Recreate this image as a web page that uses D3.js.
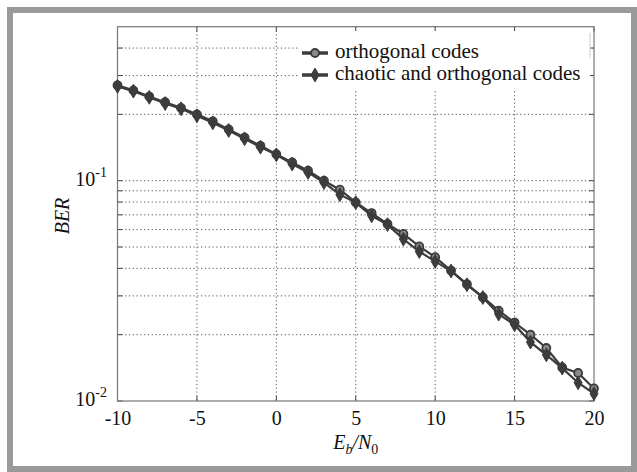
<!DOCTYPE html>
<html>
<head>
<meta charset="utf-8">
<script src="https://cdn.jsdelivr.net/npm/d3@7"></script>
<style>
  body { margin: 0; background: #fff; }
  svg text { font-family: "Liberation Serif", "Times New Roman", serif !important; fill: #111; }
</style>
</head>
<body>
<svg id="chart"></svg>
<script>
// Eb/N0 values (dB)
const snr = [-10, -9, -8, -7, -6, -5, -4, -3, -2, -1, 0, 1, 2, 3, 4, 5, 6, 7, 8, 9, 10,
             11, 12, 13, 14, 15, 16, 17, 18, 19, 20];
// BER, orthogonal codes (circles)
const berOrthogonal = [0.271, 0.257, 0.241, 0.227, 0.214, 0.200, 0.186, 0.171, 0.157, 0.144, 0.132,
                       0.121, 0.111, 0.100, 0.0910, 0.0797, 0.0713, 0.0636, 0.0573, 0.0503, 0.0450,
                       0.0391, 0.0339, 0.0296, 0.0257, 0.0227, 0.0200, 0.0174, 0.0142, 0.0134, 0.0114];
// BER, chaotic and orthogonal codes (diamonds)
const berChaotic = [0.268, 0.255, 0.239, 0.224, 0.212, 0.197, 0.183, 0.169, 0.155, 0.142, 0.131,
                    0.119, 0.109, 0.098, 0.0864, 0.0795, 0.0693, 0.0632, 0.0543, 0.0477, 0.0430,
                    0.0389, 0.0337, 0.0295, 0.0248, 0.0222, 0.0185, 0.0162, 0.0141, 0.0121, 0.0108];
const xTicks = [-10, -5, 0, 5, 10, 15, 20];
const yMajor = [0.1, 0.01];
const yMinor = [0.02, 0.03, 0.04, 0.05, 0.06, 0.07, 0.08, 0.09, 0.2, 0.3, 0.4];
const legendLabels = ["orthogonal codes", "chaotic and orthogonal codes"];

const width = 637, height = 472;
const plotLeft = 117.5, plotRight = 594, plotTop = 26.7, plotBottom = 401;
const lineColor = "#3c3c3c";
const serif = "'Liberation Serif', 'Times New Roman', serif";

const svg = d3.select("#chart").attr("width", width).attr("height", height);

// grey page frame
svg.append("rect")
    .attr("x", 10).attr("y", 10).attr("width", 624).attr("height", 459)
    .attr("fill", "none").attr("stroke", "#9a9a9a").attr("stroke-width", 6);

const x = d3.scaleLinear().domain([-10, 20]).range([plotLeft, plotRight]);
const y = d3.scaleLog().domain([0.01, 0.5]).range([plotBottom, plotTop]);

// grid
const grid = svg.append("g")
    .attr("stroke", "#555").attr("stroke-width", 1).attr("stroke-dasharray", "1.2,2.6");
grid.selectAll(".gx").data(xTicks.slice(1, -1)).join("line")
    .attr("x1", d => x(d)).attr("x2", d => x(d))
    .attr("y1", plotTop).attr("y2", plotBottom);
grid.selectAll(".gy").data(yMajor.concat(yMinor).filter(d => d > 0.01)).join("line")
    .attr("x1", plotLeft).attr("x2", plotRight)
    .attr("y1", d => y(d)).attr("y2", d => y(d));

// ticks inside on all sides
const ticks = svg.append("g").attr("stroke", "#444").attr("stroke-width", 1);
xTicks.forEach(d => {
  ticks.append("line").attr("x1", x(d)).attr("x2", x(d)).attr("y1", plotBottom).attr("y2", plotBottom - 5);
  ticks.append("line").attr("x1", x(d)).attr("x2", x(d)).attr("y1", plotTop).attr("y2", plotTop + 5);
});
yMajor.concat(yMinor).forEach(d => {
  ticks.append("line").attr("x1", plotLeft).attr("x2", plotLeft + 5).attr("y1", y(d)).attr("y2", y(d));
  ticks.append("line").attr("x1", plotRight).attr("x2", plotRight - 5).attr("y1", y(d)).attr("y2", y(d));
});

// x axis labels
svg.append("g")
    .attr("transform", `translate(0,${plotBottom})`)
    .call(d3.axisBottom(x).tickValues(xTicks).tickSize(0).tickPadding(10).tickFormat(d3.format("d")))
    .call(g => g.select(".domain").remove())
    .call(g => g.selectAll("text").attr("font-size", 20).attr("fill", "#111")
        .attr("font-family", serif).text(d => String(d)));

// y axis labels 10^k
yMajor.forEach(d => {
  const t = svg.append("text").attr("x", 107).attr("y", y(d) + 5)
      .attr("text-anchor", "end").attr("font-size", 20).attr("font-family", serif);
  t.append("tspan").text("10");
  t.append("tspan").attr("font-size", 14).attr("dy", -9).text(String(Math.round(Math.log10(d))));
});

// axes box
svg.append("rect")
    .attr("x", plotLeft).attr("y", plotTop).attr("width", plotRight - plotLeft).attr("height", plotBottom - plotTop)
    .attr("fill", "none").attr("stroke", "#777").attr("stroke-width", 1.2);

// series
const series = [
  {values: berOrthogonal, symbol: "circle"},
  {values: berChaotic, symbol: "diamond"}
];
const line = d3.line().x(d => x(d[0])).y(d => y(d[1]));

function drawMarker(g, sym, cx, cy) {
  if (sym === "circle") {
    g.append("circle").attr("cx", cx).attr("cy", cy).attr("r", 4)
        .attr("fill", "#8a8a8a").attr("stroke", lineColor).attr("stroke-width", 1.8);
  } else {
    g.append("path").attr("d", d3.symbol(d3.symbolDiamond, 55)())
        .attr("transform", `translate(${cx},${cy})`)
        .attr("fill", lineColor).attr("stroke", lineColor).attr("stroke-width", 1);
  }
}

series.forEach(s => {
  const pts = snr.map((v, i) => [v, s.values[i]]);
  svg.append("path").attr("d", line(pts))
      .attr("fill", "none").attr("stroke", lineColor).attr("stroke-width", 2.2);
  const g = svg.append("g");
  pts.forEach(p => drawMarker(g, s.symbol, x(p[0]), y(p[1])));
});

// y label
svg.append("text")
    .attr("transform", "translate(69,216) rotate(-90)")
    .attr("text-anchor", "middle").attr("font-size", 20).attr("font-style", "italic")
    .attr("font-family", serif)
    .text("BER");

// x label E_b/N_0
const xl = svg.append("text").attr("x", (plotLeft + plotRight) / 2).attr("y", 449)
    .attr("text-anchor", "middle").attr("font-size", 20).attr("font-family", serif);
xl.append("tspan").attr("font-style", "italic").text("E");
xl.append("tspan").attr("font-style", "italic").attr("font-size", 14).attr("dy", 5).text("b");
xl.append("tspan").attr("font-style", "italic").attr("dy", -5).text("/N");
xl.append("tspan").attr("font-size", 14).attr("dy", 5).text("0");

// legend
const lg = svg.append("g");
lg.append("rect").attr("x", 299).attr("y", 31).attr("width", 291).attr("height", 58)
    .attr("fill", "#fff");
lg.append("line").attr("x1", 590).attr("x2", 590).attr("y1", 33).attr("y2", 58)
    .attr("stroke", "#ccc").attr("stroke-width", 1);
legendLabels.forEach((label, i) => {
  const ly = 53 + i * 22;
  lg.append("line").attr("x1", 302).attr("x2", 328).attr("y1", ly).attr("y2", ly)
      .attr("stroke", lineColor).attr("stroke-width", 3.5);
  drawMarker(lg, series[i].symbol, 315, ly);
  lg.append("text").attr("x", 335).attr("y", ly + 5).attr("font-size", 21)
      .attr("font-family", serif).text(label);
});
</script>
</body>
</html>
